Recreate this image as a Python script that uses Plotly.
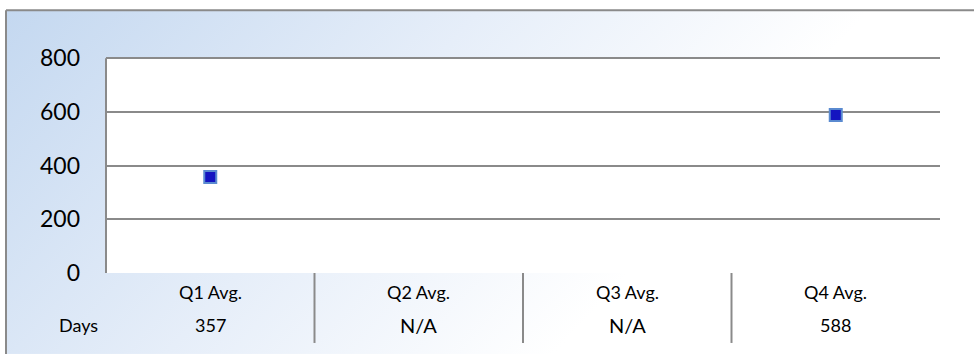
import base64
import plotly.graph_objects as go

# ---- data ----
categories = ["Q1 Avg.", "Q2 Avg.", "Q3 Avg.", "Q4 Avg."]
days_values = [357, None, None, 588]
table_labels = ["357", "N/A", "N/A", "588"]
row_label = "Days"
y_ticks = [0, 200, 400, 600, 800]

# ---- geometry (pixels) ----
W, H = 974, 354
Y_MAX = 808
PX_PER_UNIT = 215 / 800
L, R, B = 106, 34, 81
PH = Y_MAX * PX_PER_UNIT
T = H - B - PH
PW = W - L - R


def px_x(px):
    return (px - L) / PW


def px_y(py):
    return (H - B - py) / PH


GRID = "#8a8a8a"
FONT = "Lato"

fig = go.Figure()
fig.add_trace(go.Scatter(
    x=categories, y=days_values, mode="markers",
    marker=dict(symbol="square", size=12, color="#1414C0",
                line=dict(color="#5A8AD0", width=2)),
    showlegend=False, hoverinfo="x+y",
))

# gradient background (svg data uri)
gw, gh = W - 6, H - 10
svg = f'''<svg xmlns="http://www.w3.org/2000/svg" width="{gw}" height="{gh}" viewBox="0 0 {gw} {gh}" preserveAspectRatio="none">
<defs><linearGradient id="g" gradientUnits="userSpaceOnUse" x1="0" y1="0" x2="470" y2="430">
<stop offset="0" stop-color="#c4d8f0"/><stop offset="0.55" stop-color="#e6eef9"/><stop offset="1" stop-color="#ffffff"/>
</linearGradient></defs><rect x="0" y="0" width="{gw}" height="{gh}" fill="url(#g)"/></svg>'''
src = "data:image/svg+xml;base64," + base64.b64encode(svg.encode()).decode()

fig.add_layout_image(dict(
    source=src, xref="paper", yref="paper",
    x=px_x(6), y=px_y(10), sizex=gw / PW, sizey=gh / PH,
    xanchor="left", yanchor="top", sizing="stretch", layer="below",
))

shapes = [
    # white plot area (up to the top tick)
    dict(type="rect", xref="paper", yref="y", x0=0, x1=1, y0=0, y1=y_ticks[-1],
         fillcolor="white", line=dict(width=0), layer="below"),
    # outer frame (left + top)
    dict(type="line", xref="paper", yref="paper", x0=px_x(6), x1=px_x(6),
         y0=px_y(10), y1=px_y(H), line=dict(color=GRID, width=2)),
    dict(type="line", xref="paper", yref="paper", x0=px_x(6), x1=px_x(W),
         y0=px_y(10), y1=px_y(10), line=dict(color=GRID, width=2)),
]
# table vertical separators between categories
for i in range(len(categories) - 1):
    shapes.append(dict(type="line", xref="x", yref="paper", x0=i + 0.5, x1=i + 0.5,
                       y0=0, y1=px_y(343), line=dict(color=GRID, width=2)))

annotations = []
for cat, lab in zip(categories, table_labels):
    annotations.append(dict(x=cat, xref="x", y=px_y(292), yref="paper", text=cat,
                            showarrow=False, xanchor="center", yanchor="middle",
                            font=dict(family=FONT, size=18, color="#000")))
    annotations.append(dict(x=cat, xref="x", y=px_y(325), yref="paper", text=lab,
                            showarrow=False, xanchor="center", yanchor="middle",
                            font=dict(family=FONT, size=20 if lab == "N/A" else 18,
                                      color="#000")))
annotations.append(dict(x=px_x(78), xref="paper", y=px_y(325), yref="paper", text=row_label,
                        showarrow=False, xanchor="center", yanchor="middle",
                        font=dict(family=FONT, size=18, color="#000")))

fig.update_layout(
    width=W, height=H,
    margin=dict(l=L, r=R, t=T, b=B),
    paper_bgcolor="white", plot_bgcolor="rgba(0,0,0,0)",
    shapes=shapes, annotations=annotations,
    xaxis=dict(type="category", categoryarray=categories, range=[-0.5, 3.5],
               showgrid=False, showticklabels=False, ticks="", showline=False,
               zeroline=False, fixedrange=True),
    yaxis=dict(range=[0, Y_MAX], tickvals=y_ticks, showgrid=True, gridcolor=GRID,
               gridwidth=2, zeroline=False, showline=False,
               ticks="", ticklabelstandoff=25,
               tickfont=dict(family=FONT, size=23, color="#000"), fixedrange=True),
    font=dict(family=FONT),
)
# left axis line from 0 to the top tick
fig.add_shape(type="line", xref="paper", yref="y", x0=0, x1=0, y0=0, y1=y_ticks[-1],
              line=dict(color=GRID, width=2))

fig.write_html("out.html", config={"displayModeBar": False},
               post_script="document.body.style.margin='0';document.body.style.overflow='hidden';")
